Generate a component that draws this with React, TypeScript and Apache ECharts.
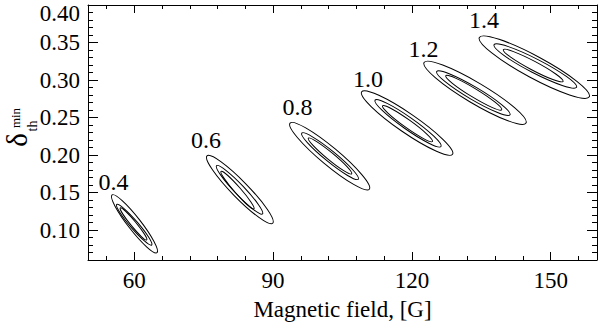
import { useEffect, useRef } from 'react';
import * as echarts from 'echarts';

// Contour-level labels
const levels = ['0.4', '0.6', '0.8', '1.0', '1.2', '1.4'];
const labelX = [55.5, 75.5, 95.3, 110.5, 122.5, 135.6];
const labelY = [0.1635, 0.2202, 0.2636, 0.301, 0.341, 0.3798];

// Contour major-axis end points [x1, y1, x2, y2] (upper-left tip, lower-right tip)
const outerContours = [
  [55.19, 0.1468, 64.91, 0.0697],
  [75.72, 0.1989, 89.92, 0.109],
  [93.66, 0.2425, 110.8, 0.1544],
  [109.15, 0.2843, 128.78, 0.2009],
  [122.62, 0.3234, 144.66, 0.2425],
  [134.57, 0.3567, 158.34, 0.2776],
];
const middleContours = [
  [56.2, 0.1341, 63.77, 0.08],
  [77.79, 0.1858, 87.71, 0.1214],
  [96.19, 0.2292, 108.42, 0.1677],
  [112.03, 0.2732, 126.29, 0.2113],
  [125.36, 0.3114, 141.2, 0.2536],
  [137.75, 0.347, 155.58, 0.2903],
];
const innerContours = [
  [56.98, 0.1294, 62.69, 0.0867],
  [78.74, 0.1782, 85.88, 0.1281],
  [97.61, 0.2225, 106.99, 0.1748],
  [113.65, 0.2656, 124.45, 0.2179],
  [127.31, 0.3057, 139.41, 0.2603],
  [139.76, 0.3404, 152.66, 0.2981],
];
// minor/major axis ratio of each contour family
const outerRatio = 0.175;
const middleRatio = 0.15;
const innerRatio = 0.13;

// Axis ticks
const xMajorTicks = [60, 90, 120, 150];
const xMinorTicks = [54, 66, 72, 78, 84, 96, 102, 108, 114, 126, 132, 138, 144, 156];
const yMajorTicks = [0.1, 0.15, 0.2, 0.25, 0.3, 0.35, 0.4];
const yMinorTicks = [
  0.07, 0.08, 0.09, 0.11, 0.12, 0.13, 0.14, 0.16, 0.17, 0.18, 0.19, 0.21, 0.22, 0.23, 0.24,
  0.26, 0.27, 0.28, 0.29, 0.31, 0.32, 0.33, 0.34, 0.36, 0.37, 0.38, 0.39,
];
const xMin = 50;
const xMax = 160;
const yMin = 0.06;
const yMax = 0.4;

const FONT = 'Liberation Serif';
const INK = '#000';

export default function App() {
  const ref = useRef<HTMLDivElement>(null);

  useEffect(() => {
    if (!ref.current) return;
    const chart = echarts.init(ref.current, undefined, { renderer: 'svg' });

    const lineStyle = { color: INK, width: 1 };
    const mkX = (position: string, ticks: number[], len: number, main: boolean) => ({
      type: 'value',
      min: xMin,
      max: xMax,
      position,
      axisLine: { show: main, onZero: false, lineStyle },
      axisTick: { show: true, inside: true, length: len, customValues: ticks, lineStyle },
      axisLabel: main && position === 'bottom'
        ? { show: true, customValues: xMajorTicks, margin: 9, color: INK, fontFamily: FONT, fontSize: 23 }
        : { show: false },
      splitLine: { show: false },
      ...(main && position === 'bottom'
        ? {
            name: 'Magnetic field, [G]',
            nameLocation: 'middle',
            nameGap: 38,
            nameTextStyle: { color: INK, fontFamily: FONT, fontSize: 23 },
          }
        : {}),
    });
    const mkY = (position: string, ticks: number[], len: number, main: boolean) => ({
      type: 'value',
      min: yMin,
      max: yMax,
      position,
      axisLine: { show: main, onZero: false, lineStyle },
      axisTick: { show: true, inside: true, length: len, customValues: ticks, lineStyle },
      axisLabel: main && position === 'left'
        ? {
            show: true,
            customValues: yMajorTicks,
            margin: 8,
            color: INK,
            fontFamily: FONT,
            fontSize: 23,
            formatter: (v: number) => (v > 0.399 ? '{t|' + v.toFixed(2) + '}' : v.toFixed(2)),
            rich: {
              t: { padding: [17, 0, 0, 0], color: INK, fontFamily: FONT, fontSize: 23 },
            },
          }
        : { show: false },
      splitLine: { show: false },
    });

    const contourData = [
      ...outerContours.map((c) => [...c, outerRatio]),
      ...middleContours.map((c) => [...c, middleRatio]),
      ...innerContours.map((c) => [...c, innerRatio]),
    ];

    chart.setOption({
      animation: false,
      backgroundColor: '#fff',
      grid: { left: 88, right: 3, top: 5, bottom: 62, containLabel: false, outerBoundsMode: 'none' },
      xAxis: [
        mkX('bottom', xMajorTicks, 8, true),
        mkX('bottom', xMinorTicks, 4, false),
        mkX('top', xMajorTicks, 8, true),
        mkX('top', xMinorTicks, 4, false),
      ],
      yAxis: [
        mkY('left', yMajorTicks, 10, true),
        mkY('left', yMinorTicks, 5, false),
        mkY('right', yMajorTicks, 10, true),
        mkY('right', yMinorTicks, 5, false),
      ],
      graphic: [
        {
          type: 'text',
          x: 17,
          y: 140,
          rotation: Math.PI / 2,
          style: { text: 'δ', font: `29px "${FONT}"`, fill: INK, align: 'center', verticalAlign: 'middle' },
        },
        {
          type: 'text',
          x: 32,
          y: 126,
          rotation: Math.PI / 2,
          style: { text: 'th', font: `14px "${FONT}"`, fill: INK, align: 'center', verticalAlign: 'middle' },
        },
        {
          type: 'text',
          x: 15,
          y: 118,
          rotation: Math.PI / 2,
          style: { text: 'min', font: `13px "${FONT}"`, fill: INK, align: 'center', verticalAlign: 'middle' },
        },
      ],
      series: [
        {
          type: 'custom',
          xAxisIndex: 0,
          yAxisIndex: 0,
          dimensions: ['x1', 'y1', 'x2', 'y2', 'r'],
          encode: { x: [0, 2], y: [1, 3] },
          data: contourData,
          renderItem: (_params: any, api: any) => {
            const p1 = api.coord([api.value(0), api.value(1)]);
            const p2 = api.coord([api.value(2), api.value(3)]);
            const r = api.value(4);
            const dx = p2[0] - p1[0];
            const dy = p2[1] - p1[1];
            const a = Math.sqrt(dx * dx + dy * dy) / 2;
            return {
              type: 'ellipse',
              x: (p1[0] + p2[0]) / 2,
              y: (p1[1] + p2[1]) / 2,
              rotation: -Math.atan2(dy, dx),
              shape: { cx: 0, cy: 0, rx: a, ry: a * r },
              style: { fill: 'none', stroke: INK, lineWidth: 1 },
            };
          },
        },
        {
          type: 'custom',
          xAxisIndex: 0,
          yAxisIndex: 0,
          dimensions: ['x', 'y'],
          encode: { x: 0, y: 1 },
          data: levels.map((_n, i) => [labelX[i], labelY[i]]),
          renderItem: (params: any, api: any) => {
            const p = api.coord([api.value(0), api.value(1)]);
            return {
              type: 'text',
              x: p[0],
              y: p[1],
              style: {
                text: levels[params.dataIndex],
                font: `24px "${FONT}"`,
                fill: INK,
                align: 'center',
                verticalAlign: 'middle',
              },
            };
          },
        },
      ],
    });

    return () => chart.dispose();
  }, []);

  return (
    <div
      ref={ref}
      style={{ position: 'fixed', left: 0, top: 0, width: 600, height: 322, background: '#fff' }}
    />
  );
}
